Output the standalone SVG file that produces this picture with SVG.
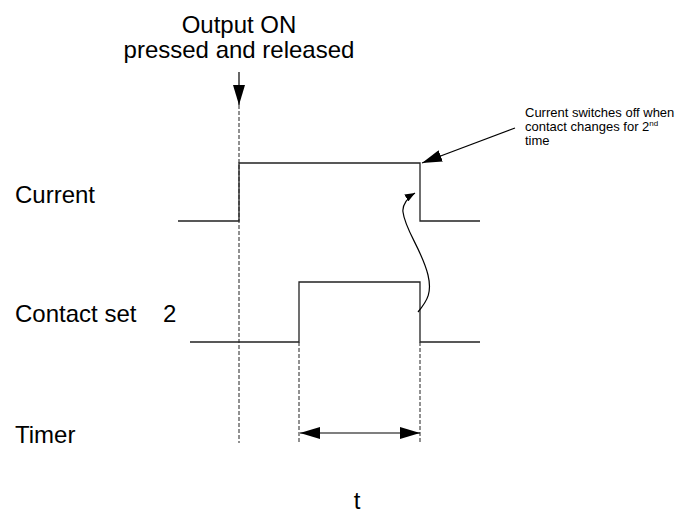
<svg xmlns="http://www.w3.org/2000/svg" width="680" height="513" viewBox="0 0 680 513">
<style>
text{font-family:"Liberation Sans",Arial,sans-serif;fill:#000}
.big{font-size:24px}
.small{font-size:13px}
.wave{fill:none;stroke:#222;stroke-width:1.3}
.dash{fill:none;stroke:#222;stroke-width:1;stroke-dasharray:4,2}
.ln{fill:none;stroke:#000;stroke-width:1.2}
</style>
<defs>
<marker id="ah" viewBox="0 0 20 12" refX="20" refY="6" markerWidth="20" markerHeight="12" markerUnits="userSpaceOnUse" orient="auto-start-reverse">
<path d="M0,0 L20,6 L0,12 Z" fill="#000"/>
</marker>
<marker id="ahs" viewBox="0 0 10 8" refX="10" refY="4" markerWidth="10" markerHeight="8" markerUnits="userSpaceOnUse" orient="auto">
<path d="M0,0 L10,4 L0,8 Z" fill="#000"/>
</marker>
</defs>
<g id="title">
<text class="big" x="239" y="33" text-anchor="middle">Output ON</text>
<text class="big" x="239" y="58" text-anchor="middle">pressed and released</text>
</g>
<g id="labels">
<text class="big" x="15" y="203">Current</text>
<text class="big" x="15" y="322">Contact set</text>
<text class="big" x="163" y="322">2</text>
<text class="big" x="15" y="443">Timer</text>
<text class="big" x="357" y="509" text-anchor="middle">t</text>
</g>
<g id="annotation">
<text class="small" x="525" y="117">Current switches off when</text>
<text class="small" x="525" y="131">contact changes for 2<tspan font-size="8" dy="-5">nd</tspan></text>
<text class="small" x="525" y="145">time</text>
</g>
<g id="current-wave">
<path class="wave" d="M178,221 H239 V163 H420 V221 H480"/>
</g>
<g id="contact-wave">
<path class="wave" d="M190,342 H299 V282 H420 V342 H480"/>
</g>
<g id="connectors">
<line class="ln" x1="239" y1="72" x2="239" y2="105" marker-end="url(#ah)"/>
<line class="dash" x1="239" y1="105" x2="239" y2="443"/>
<line class="dash" x1="299" y1="342" x2="299" y2="443"/>
<line class="dash" x1="420" y1="342" x2="420" y2="443"/>
<line class="ln" x1="300" y1="433" x2="420" y2="433" marker-start="url(#ah)" marker-end="url(#ah)"/>
<line class="ln" x1="515" y1="128" x2="422" y2="163" marker-end="url(#ah)"/>
<path class="ln" d="M418,312 C428,300 432,292 428,275 C422,250 405,230 403,212 C402,205 408,197 415,193" stroke-width="1" marker-end="url(#ahs)"/>
</g>
</svg>
